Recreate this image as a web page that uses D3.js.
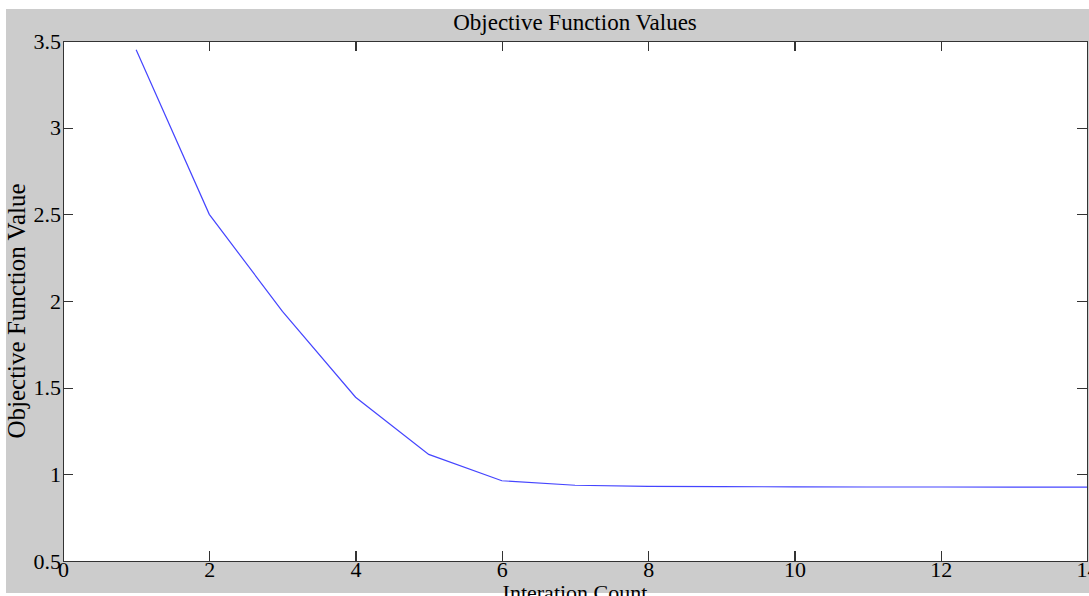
<!DOCTYPE html>
<html>
<head>
<meta charset="utf-8">
<script src="https://cdn.jsdelivr.net/npm/d3@7"></script>
<style>
  body { margin: 0; background: #fff; }
  svg { display: block; }
  text { font-family: "Liberation Serif", "Times New Roman", serif; fill: #000; }
</style>
</head>
<body>
<svg width="1089" height="596"></svg>
<script>
const svg = d3.select("svg");

// data
const iterations = [1, 2, 3, 4, 5, 6, 7, 8, 9, 10, 11, 12, 13, 14];
const objectiveValues = [3.45, 2.50, 1.94, 1.445, 1.115, 0.963, 0.937, 0.931, 0.929, 0.928, 0.927, 0.927, 0.926, 0.926];
const xTicks = [0, 2, 4, 6, 8, 10, 12, 14];
const yTicks = [0.5, 1, 1.5, 2, 2.5, 3, 3.5];
const yTickLabels = ["0.5", "1", "1.5", "2", "2.5", "3", "3.5"];

const plot = { left: 63, right: 1087, top: 41, bottom: 561 };

const x = d3.scaleLinear().domain([0, 14]).range([plot.left, plot.right]);
const y = d3.scaleLinear().domain([0.5, 3.5]).range([plot.bottom, plot.top]);

// figure background
svg.append("rect")
  .attr("x", 6).attr("y", 9)
  .attr("width", 1089 - 6).attr("height", 593 - 9)
  .attr("fill", "#cccccc");

svg.append("rect")
  .attr("x", plot.left).attr("y", plot.top)
  .attr("width", plot.right - plot.left).attr("height", plot.bottom - plot.top)
  .attr("fill", "#fff");

// line
const line = d3.line()
  .x((d, i) => x(iterations[i]))
  .y(d => y(d));

svg.append("path")
  .datum(objectiveValues)
  .attr("fill", "none")
  .attr("stroke", "#4545ff")
  .attr("stroke-width", 1.2)
  .attr("d", line);

// axes: ticks point inward on all four sides
function styleAxis(g) {
  g.selectAll("path, line")
    .attr("stroke", "#333")
    .attr("stroke-width", 1.2)
    .attr("shape-rendering", "crispEdges");
  g.selectAll("text")
    .attr("font-size", 22)
    .attr("font-family", "Liberation Serif, Times New Roman, serif")
    .attr("fill", "#000");
}

svg.append("g")
  .attr("transform", `translate(0,${plot.bottom})`)
  .call(d3.axisBottom(x).tickValues(xTicks).tickSize(-10).tickSizeOuter(0).tickPadding(0).tickFormat(d3.format("d")))
  .call(styleAxis);

svg.append("g")
  .attr("transform", `translate(0,${plot.top})`)
  .call(d3.axisTop(x).tickValues(xTicks).tickSize(-10).tickSizeOuter(0).tickFormat(""))
  .call(styleAxis);

svg.append("g")
  .attr("transform", `translate(${plot.left},0)`)
  .call(d3.axisLeft(y).tickValues(yTicks).tickSize(-10).tickSizeOuter(0).tickPadding(2)
    .tickFormat((d, i) => yTickLabels[i]))
  .call(styleAxis);

svg.append("g")
  .attr("transform", `translate(${plot.right},0)`)
  .call(d3.axisRight(y).tickValues(yTicks).tickSize(-10).tickSizeOuter(0).tickFormat(""))
  .call(styleAxis);

// titles
svg.append("text")
  .attr("x", (plot.left + plot.right) / 2)
  .attr("y", 30)
  .attr("text-anchor", "middle")
  .attr("font-size", 23)
  .text("Objective Function Values");

svg.append("text")
  .attr("x", (plot.left + plot.right) / 2)
  .attr("y", 600)
  .attr("text-anchor", "middle")
  .attr("font-size", 22)
  .text("Interation Count");

svg.append("text")
  .attr("transform", `translate(25,${(plot.top + plot.bottom) / 2 + 10}) rotate(-90)`)
  .attr("text-anchor", "middle")
  .attr("font-size", 25)
  .text("Objective Function Value");
</script>
</body>
</html>
